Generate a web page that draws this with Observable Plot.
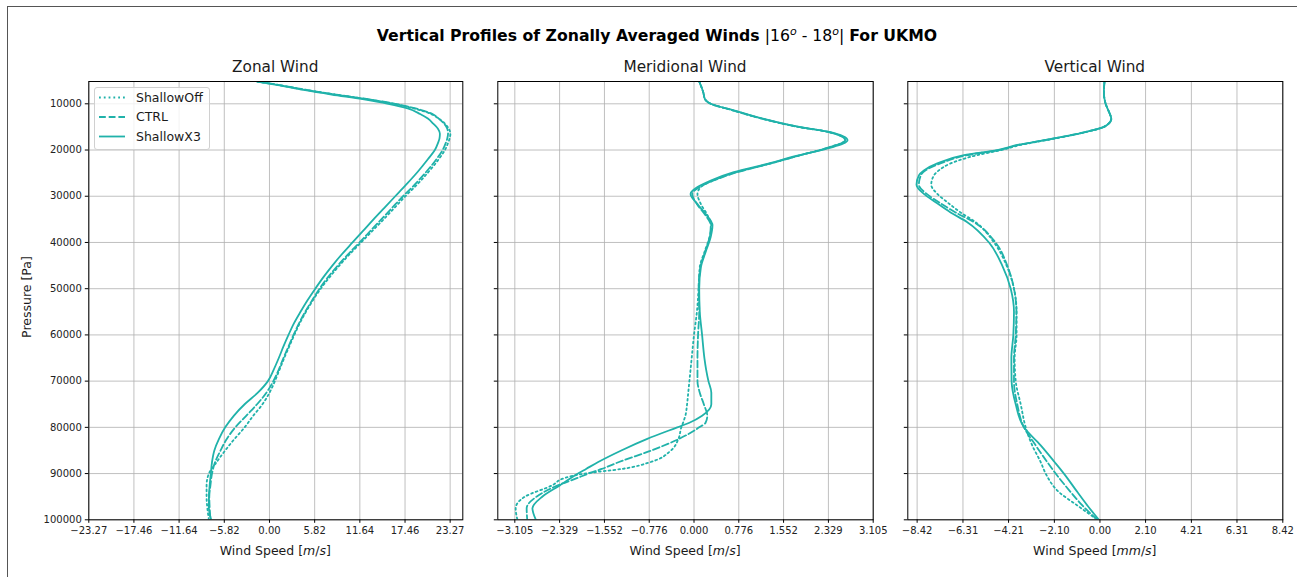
<!DOCTYPE html>
<html>
<head>
<meta charset="utf-8">
<script src="https://cdn.jsdelivr.net/npm/d3@7"></script>
<script src="https://cdn.jsdelivr.net/npm/@observablehq/plot@0.6"></script>
<style>
  body { margin: 0; background: #fff; }
  #fig { position: relative; width: 1297px; height: 577px; overflow: hidden;
         font-family: "DejaVu Sans", sans-serif; color: #1a1a1a; background: #fff; }
  .abs { position: absolute; white-space: nowrap; line-height: 1; }
  .ctr { transform: translate(-50%, -50%); }
  #border { position: absolute; left: 7px; top: 6px; width: 1400px; height: 700px;
            border: 1px solid #555; box-sizing: border-box; }
  .panel { position: absolute; top: 0; }
  .panel svg { max-width: none !important; }
</style>
</head>
<body>
<div id="fig"><div id="border"></div></div>
<script>
// ---- series ----
const seriesNames = ["ShallowOff", "CTRL", "ShallowX3"];
const seriesDash = ["1.8,3.0", "6.8,2.9", null];
const lineColor = "#20b2aa";

// ---- shared pressure axis (Pa) ----
const pressureTicks = [10000, 20000, 30000, 40000, 50000, 60000, 70000, 80000, 90000, 100000];
const pressureTop = 5175;
const pressureBottom = 100000;

// ---- zonal wind (m/s) ----
const zonalTicks = [-23.27, -17.46, -11.64, -5.82, 0, 5.82, 11.64, 17.46, 23.27];
const zonalPressure = [5175, 6000, 7000, 8000, 9000, 10000, 11000, 12200, 13200, 14300, 15400, 16500, 17500, 18500,
  20000, 22000, 24700, 27500, 30000, 32500, 35000, 37500, 40000, 42500, 45000, 47500, 50000, 52500, 55000, 57500,
  60000, 62500, 65000, 67500, 70000, 72500, 75000, 77500, 80000, 82500, 85000, 87500, 90000, 92500, 95000, 97500, 100000];
const zonalShallowOff = [-1.6, 1.4, 4.7, 8.5, 12.6, 16.0, 18.6, 20.8, 21.8, 22.6, 23.1, 23.3, 23.2, 23.0,
  22.6, 21.8, 20.5, 19.0, 17.5, 16.1, 14.7, 13.25, 11.8, 10.35, 9.0, 7.75, 6.6, 5.6, 4.7, 3.9,
  3.2, 2.55, 1.9, 1.3, 0.7, 0.0, -0.9, -2.1, -3.2, -4.5, -5.7, -6.8, -7.8, -8.1, -8.1, -8.0, -7.8];
const zonalCtrl = [-1.5, 1.5, 4.8, 8.6, 12.7, 16.2, 18.8, 21.0, 21.8, 22.5, 22.9, 23.0, 22.9, 22.7,
  22.3, 21.5, 20.2, 18.7, 17.2, 15.8, 14.4, 13.0, 11.6, 10.15, 8.8, 7.55, 6.45, 5.5, 4.6, 3.8,
  3.1, 2.45, 1.8, 1.2, 0.5, -0.4, -1.6, -3.0, -4.4, -5.5, -6.3, -7.0, -7.4, -7.6, -7.75, -7.7, -7.6];
const zonalShallowX3 = [-1.6, 1.3, 4.4, 8.0, 12.0, 15.3, 17.8, 19.4, 20.4, 21.1, 21.7, 21.95, 21.9, 21.7,
  21.3, 20.4, 19.1, 17.6, 16.2, 14.8, 13.4, 12.05, 10.7, 9.35, 8.1, 6.95, 5.9, 4.9, 4.0, 3.15,
  2.45, 1.8, 1.2, 0.55, -0.2, -1.5, -3.2, -4.6, -5.7, -6.5, -7.1, -7.4, -7.55, -7.7, -7.8, -7.8, -7.5];

// ---- meridional wind (m/s) ----
const meridTicks = [-3.105, -2.329, -1.552, -0.776, 0, 0.776, 1.552, 2.329, 3.105];
const meridPressure = [5175, 7500, 9000, 10000, 11400, 13250, 15050, 16100, 17900, 19500, 21200, 23000, 24800,
  26600, 28000, 29500, 31700, 33800, 36300, 38800, 42100, 45300, 50000, 55000, 60000, 65000, 67500,
  70000, 72500, 75000, 77500, 79000, 80000, 82500, 85000, 87500, 89000, 90000, 91000, 92500, 95000, 97500, 100000];
const meridShallowOff = [0.09, 0.16, 0.19, 0.29, 0.67, 1.19, 1.83, 2.33, 2.62, 2.32, 1.82, 1.30, 0.73,
  0.33, 0.12, 0.06, 0.12, 0.22, 0.30, 0.27, 0.18, 0.10, 0.08, 0.05, 0.0, -0.04, -0.06,
  -0.08, -0.10, -0.12, -0.15, -0.19, -0.22, -0.27, -0.40, -0.75, -1.25, -1.90, -2.25, -2.45, -2.93, -3.09, -3.06];
const meridCtrl = [0.09, 0.16, 0.19, 0.29, 0.67, 1.19, 1.83, 2.33, 2.62, 2.32, 1.82, 1.30, 0.75,
  0.34, 0.10, -0.03, 0.05, 0.18, 0.29, 0.27, 0.19, 0.11, 0.08, 0.09, 0.07, 0.06, 0.06,
  0.06, 0.10, 0.17, 0.23, 0.20, 0.09, -0.26, -0.74, -1.30, -1.60, -1.83, -2.03, -2.35, -2.73, -2.90, -2.89];
const meridShallowX3 = [0.09, 0.16, 0.19, 0.29, 0.69, 1.21, 1.85, 2.34, 2.66, 2.37, 1.79, 1.27, 0.69,
  0.29, 0.06, -0.06, 0.06, 0.20, 0.32, 0.29, 0.20, 0.12, 0.09, 0.10, 0.14, 0.18, 0.21,
  0.25, 0.30, 0.30, 0.14, -0.08, -0.29, -0.81, -1.26, -1.66, -1.87, -2.01, -2.14, -2.32, -2.63, -2.80, -2.74];

// ---- vertical wind (mm/s) ----
const vertTicks = [-8.42, -6.31, -4.21, -2.10, 0, 2.10, 4.21, 6.31, 8.42];
const vertPressure = [5175, 7500, 10000, 11700, 13300, 15000, 16000, 17500, 18900, 20000, 21100, 22900, 24400,
  25500, 27500, 29500, 31300, 33500, 35600, 40000, 45000, 50000, 55000, 60000, 65000, 70000, 75000,
  80000, 83900, 87500, 90000, 94000, 96900, 100000];
const vertShallowOff = [0.21, 0.18, 0.26, 0.41, 0.52, 0.18, -0.55, -2.05, -3.65, -4.55, -5.65, -6.88, -7.42,
  -7.65, -7.77, -7.49, -7.03, -6.42, -5.73, -4.88, -4.30, -3.96, -3.84, -3.84, -3.93, -3.88, -3.65,
  -3.42, -3.12, -2.73, -2.50, -1.89, -1.04, -0.12];
const vertCtrl = [0.21, 0.18, 0.26, 0.41, 0.52, 0.18, -0.58, -2.10, -3.75, -4.65, -6.10, -7.35, -8.03,
  -8.25, -8.34, -7.98, -7.42, -6.65, -5.80, -4.81, -4.27, -3.96, -3.85, -3.88, -3.96, -3.96, -3.81,
  -3.50, -2.96, -2.43, -2.04, -1.35, -0.81, -0.12];
const vertShallowX3 = [0.21, 0.18, 0.26, 0.41, 0.52, 0.18, -0.58, -2.12, -3.81, -4.73, -6.26, -7.49, -8.11,
  -8.34, -8.45, -8.11, -7.57, -6.88, -6.11, -5.11, -4.50, -4.11, -3.96, -3.99, -4.08, -4.07, -3.88,
  -3.50, -2.73, -2.09, -1.66, -1.04, -0.58, -0.05];

// ---- panel layout ----
const panels = [
  { title: "Zonal Wind", unit: ["m", "s"], left: 0, width: 480, ml: 88.3, mr: 17.7,
    domain: [-23.27, 24.9], ticks: zonalTicks, fmt: d3.format(".2f"), yLabels: true,
    pressure: zonalPressure, values: [zonalShallowOff, zonalCtrl, zonalShallowX3] },
  { title: "Meridional Wind", unit: ["m", "s"], left: 480, width: 410, ml: 17.3, mr: 17.3,
    domain: [-3.40, 3.105], ticks: meridTicks, fmt: d3.format(".3f"), yLabels: false,
    pressure: meridPressure, values: [meridShallowOff, meridCtrl, meridShallowX3] },
  { title: "Vertical Wind", unit: ["mm", "s"], left: 890, width: 407, ml: 17.3, mr: 14.7,
    domain: [-8.85, 8.42], ticks: vertTicks, fmt: d3.format(".2f"), yLabels: false,
    pressure: vertPressure, values: [vertShallowOff, vertCtrl, vertShallowX3] }
];
const H = 577, MT = 81, MB = 57.7;

const fig = document.getElementById("fig");

function addText(html, x, y, css) {
  const d = document.createElement("div");
  d.className = "abs ctr";
  d.style.left = x + "px";
  d.style.top = y + "px";
  Object.assign(d.style, css || {});
  d.innerHTML = html;
  fig.appendChild(d);
  return d;
}

for (const pn of panels) {
  const seriesMarks = pn.values.map((vals, i) =>
    Plot.line(pn.pressure.map((p, j) => ({ p, v: vals[j] })), {
      x: "v", y: "p", stroke: lineColor, strokeWidth: 1.8,
      strokeDasharray: seriesDash[i], curve: "monotone-y", clip: true
    })
  );
  const chart = Plot.plot({
    width: pn.width, height: H,
    marginLeft: pn.ml, marginRight: pn.mr, marginTop: MT, marginBottom: MB,
    style: { background: "transparent", overflow: "visible", fontFamily: "DejaVu Sans, sans-serif",
             fontSize: "10px", color: "#222" },
    x: { domain: pn.domain },
    y: { domain: [pressureBottom, pressureTop] },
    marks: [
      Plot.gridX({ ticks: pn.ticks, stroke: "#b0b0b0", strokeOpacity: 1, strokeWidth: 0.8 }),
      Plot.gridY({ ticks: pressureTicks, stroke: "#b0b0b0", strokeOpacity: 1, strokeWidth: 0.8 }),
      ...seriesMarks,
      Plot.frame({ stroke: "#000", strokeWidth: 1 }),
      Plot.axisX({ ticks: pn.ticks, tickFormat: pn.fmt, tickSize: 3.5, tickPadding: 3.5, label: null,
                   stroke: "#000", fill: "#222" }),
      Plot.axisY({ ticks: pressureTicks, tickFormat: pn.yLabels ? (d => String(d)) : (() => ""),
                   tickSize: 3.5, tickPadding: 3.5, label: null, stroke: "#000", fill: "#222" })
    ]
  });
  const wrap = document.createElement("div");
  wrap.className = "panel";
  wrap.style.left = pn.left + "px";
  wrap.style.width = pn.width + "px";
  wrap.appendChild(chart);
  fig.appendChild(wrap);

  const cx = pn.left + pn.ml + (pn.width - pn.ml - pn.mr) / 2;
  addText(pn.title, cx, 68, { fontSize: "15.3px" });
  addText(`Wind Speed [<i>${pn.unit[0]}</i>/<i>${pn.unit[1]}</i>]`, cx, 550.5, { fontSize: "12.5px" });
}

// y-axis label
addText("Pressure [Pa]", 27, 297, { fontSize: "12.5px", transform: "translate(-50%,-50%) rotate(-90deg)" });

// figure title
addText(`<b>Vertical Profiles of Zonally Averaged Winds</b> |16<sup style="font-size:0.7em;font-style:italic">o</sup> - 18<sup style="font-size:0.7em;font-style:italic">o</sup>| <b>For UKMO</b>`,
  657, 35, { fontSize: "15.7px", color: "#000" });

// legend in the zonal panel
const legend = d3.select(fig).append("svg")
  .style("position", "absolute").style("left", "94px").style("top", "87px")
  .attr("width", 117).attr("height", 64);
legend.append("rect").attr("x", 0.5).attr("y", 0.5).attr("width", 115).attr("height", 62)
  .attr("rx", 2.5).attr("fill", "rgba(255,255,255,0.8)").attr("stroke", "#d0d0d0");
seriesNames.forEach((name, i) => {
  const y = 10.5 + i * 19.5;
  legend.append("line").attr("x1", 5).attr("x2", 31).attr("y1", y).attr("y2", y)
    .attr("stroke", lineColor).attr("stroke-width", 1.8)
    .attr("stroke-dasharray", seriesDash[i]);
  legend.append("text").attr("x", 42).attr("y", y).attr("dy", "0.35em")
    .attr("font-family", "DejaVu Sans, sans-serif").attr("font-size", 12.5).attr("fill", "#1a1a1a")
    .text(name);
});
</script>
</body>
</html>
